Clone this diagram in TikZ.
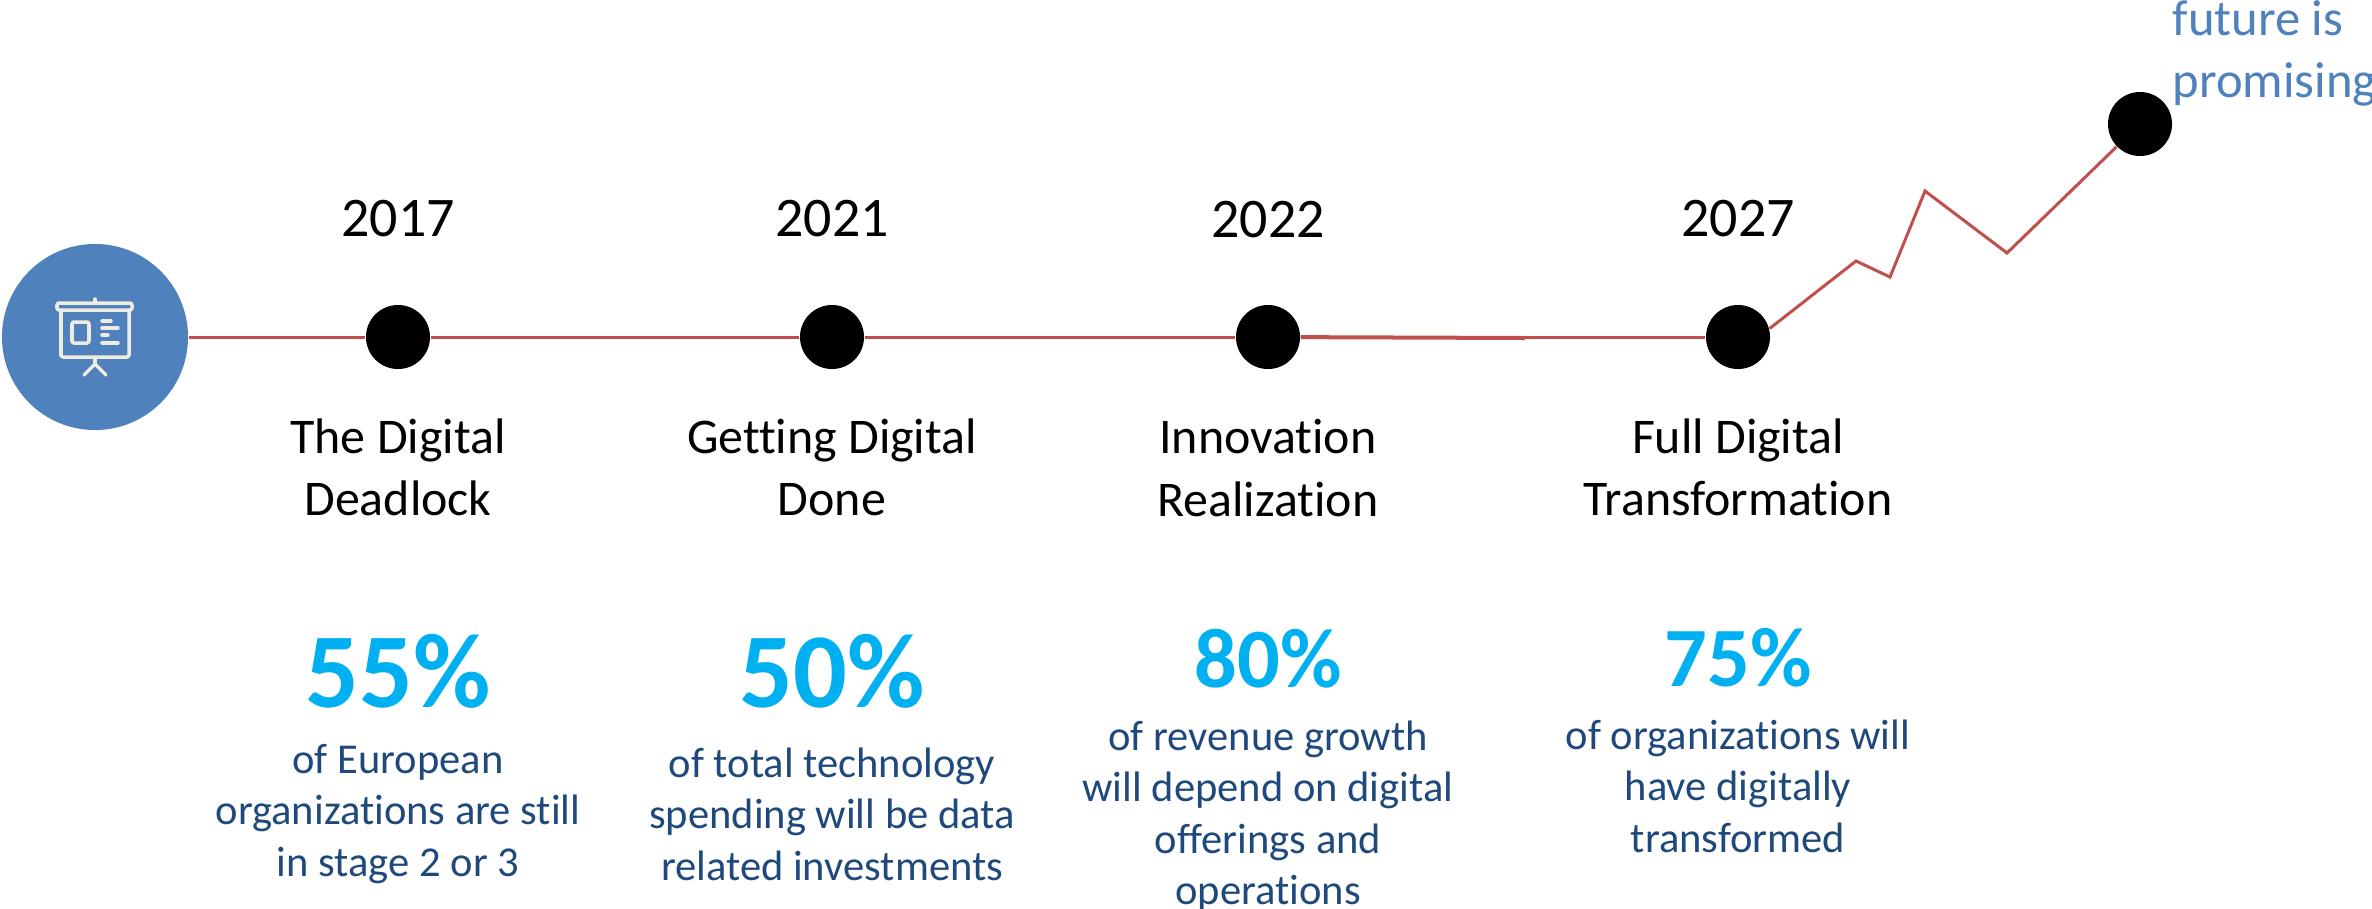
\documentclass[tikz,border=0pt]{standalone}
\usepackage{fontspec}
\setmainfont[RawFeature={-liga}]{Carlito}
\definecolor{linered}{HTML}{C0504D}
\definecolor{circleblue}{HTML}{4F81BD}
\definecolor{iconcream}{HTML}{EEECE1}
\definecolor{pctcyan}{HTML}{00B0F0}
\definecolor{bodyblue}{HTML}{1F497D}
\tikzset{
  yeardot/.style={circle, fill=black, inner sep=0pt, minimum size=0.64cm},
  yearlabel/.style={font=\fontsize{15.9}{19}\selectfont},
  stagelabel/.style={font=\fontsize{14.2}{17.7}\selectfont, align=center},
  pctlabel/.style={font=\fontsize{30.2}{36}\selectfont\bfseries, text=pctcyan},
  pctsmall/.style={pctlabel, font=\fontsize{24}{30}\selectfont\bfseries},
  bodylabel/.style={font=\fontsize{12.1}{14.65}\selectfont, text=bodyblue, align=center},
  trend/.style={linered, line width=0.03cm},
  iconline/.style={iconcream, line width=0.035cm, line cap=round, line join=round}
}
\begin{document}
\begin{tikzpicture}[x=0.01cm, y=-0.01cm]
\useasboundingbox (0,0) rectangle (2372,908);

\node[circle, fill=circleblue, inner sep=0pt, minimum size=1.86cm] (start) at (95,337) {};
\node[yeardot] (d17) at (398,337) {};
\node[yeardot] (d21) at (832,337) {};
\node[yeardot] (d22) at (1268,337) {};
\node[yeardot] (d27) at (1738,337) {};
\node[yeardot] (dend) at (2140,124) {};

\coordinate (k0) at (1525,338);
\coordinate (k1) at (1856,261);
\coordinate (k2) at (1890,277);
\coordinate (k3) at (1925,191);
\coordinate (k4) at (2007,253);

\draw[trend] (start) -- (d17);
\draw[trend] (d17) -- (d21);
\draw[trend] (d21) -- (d22);
\draw[trend] (d22) -- (d27);
\draw[trend, line width=0.04cm] (d22) -- (k0);
\draw[trend] (d27.15) -- (k1) -- (k2) -- (k3) -- (k4) -- (dend);

% icon
\draw[iconline, rounded corners=0.02cm] (57,303) rectangle (132,310);
\draw[iconline, rounded corners=0.02cm] (61,310) -- (61,357) -- (129,357) -- (129,310);
\draw[iconline, rounded corners=0.02cm] (72,322) rectangle (89,343);
\draw[iconline] (95,299) -- (95,302);
\draw[iconline] (102,321) -- (111,321);
\draw[iconline] (102,328) -- (118,328);
\draw[iconline] (102,335) -- (108,335);
\draw[iconline] (102,343) -- (118,343);
\draw[iconline] (95,357) -- (95,364) -- (84,375);
\draw[iconline] (95,364) -- (106,375);

\node[yearlabel] (y17) at (398,219) {2017};
\node[yearlabel] (y21) at (832,219) {2021};
\node[yearlabel] (y22) at (1268,220) {2022};
\node[yearlabel] (y27) at (1738,219) {2027};

\node[stagelabel] (s17) at (398,467) {The Digital\\Deadlock};
\node[stagelabel] (s21) at (832,467) {Getting Digital\\Done};
\node[stagelabel] (s22) at (1268,468) {Innovation\\Realization};
\node[stagelabel] (s27) at (1738,467) {Full Digital\\Transformation};

\node[pctlabel] (p17) at (398,671) {55\%};
\node[pctlabel] (p21) at (832,671) {50\%};
\node[pctsmall] (p22) at (1268,659) {80\%};
\node[pctsmall] (p27) at (1738,658) {75\%};

\node[bodylabel] (b17) at (398,814) {of European\\organizations are still\\in stage 2 or 3};
\node[bodylabel] (b21) at (832,814) {of total technology\\spending will be data\\related investments};
\node[bodylabel] (b22) at (1268,816) {of revenue growth\\will depend on digital\\offerings and\\operations};
\node[bodylabel] (b27) at (1738,786) {of organizations will\\have digitally\\transformed};

\node[font=\fontsize{14.4}{17.6}\selectfont, text=circleblue, align=left, anchor=west, inner sep=0pt] (future) at (2172,53) {future is\\promising};
\end{tikzpicture}
\end{document}
